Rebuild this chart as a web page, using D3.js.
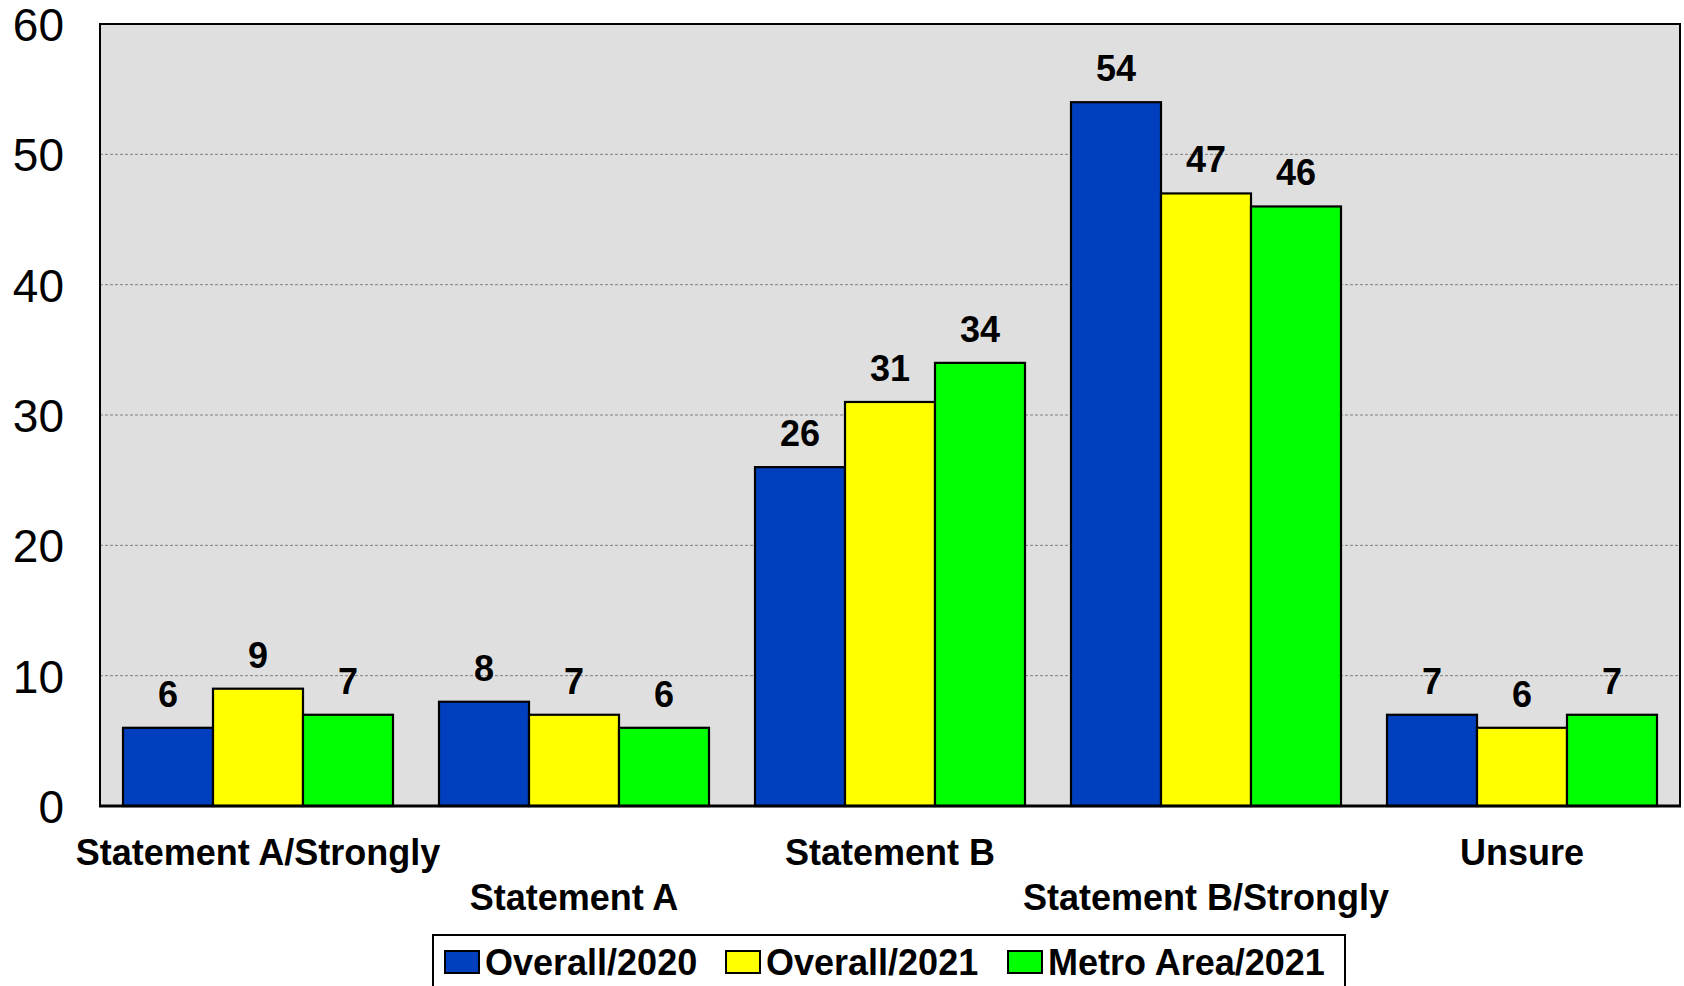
<!DOCTYPE html>
<html>
<head>
<meta charset="utf-8">
<script src="https://cdn.jsdelivr.net/npm/d3@7/dist/d3.min.js"></script>
<style>
  html, body { margin: 0; padding: 0; background: #ffffff; }
  svg { display: block; }
  text { font-family: "Liberation Sans", Arial, Helvetica, sans-serif; }
</style>
</head>
<body>
<svg id="chart" width="1684" height="986"></svg>
<script>
const categories = ["Statement A/Strongly", "Statement A", "Statement B", "Statement B/Strongly", "Unsure"];
const seriesNames = ["Overall/2020", "Overall/2021", "Metro Area/2021"];
const overall2020 = [6, 8, 26, 54, 7];
const overall2021 = [9, 7, 31, 47, 6];
const metro2021 = [7, 6, 34, 46, 7];
const seriesColors = ["#0040BF", "#FFFF00", "#00FF00"];
const yTicks = [0, 10, 20, 30, 40, 50, 60];

const seriesValues = [overall2020, overall2021, metro2021];

const svg = d3.select("#chart");
const plot = { left: 100, right: 1680, top: 24, bottom: 806 };

const y = d3.scaleLinear().domain([0, 60]).range([plot.bottom, plot.top]);
const p = 0.1456;
const x0 = d3.scaleBand().domain(categories).range([plot.left, plot.right])
  .paddingInner(p).paddingOuter(p / 2);
const x1 = d3.scaleBand().domain(seriesNames).range([0, x0.bandwidth()]).padding(0);

// plot background
svg.append("rect")
  .attr("x", plot.left).attr("y", plot.top)
  .attr("width", plot.right - plot.left).attr("height", plot.bottom - plot.top)
  .attr("fill", "#DFDFDF");

// gridlines
svg.append("g").selectAll("line")
  .data(yTicks.filter(t => t > 0 && t < 60))
  .join("line")
  .attr("x1", plot.left).attr("x2", plot.right)
  .attr("y1", d => y(d)).attr("y2", d => y(d))
  .attr("stroke", "#808080").attr("stroke-width", 1)
  .attr("stroke-dasharray", "3,2");

// bars
const groups = svg.append("g").selectAll("g")
  .data(categories)
  .join("g")
  .attr("transform", d => `translate(${x0(d)},0)`);

groups.each(function(cat, ci) {
  const g = d3.select(this);
  const data = seriesNames.map((s, si) => ({ s, si, v: seriesValues[si][ci] }));
  g.selectAll("rect")
    .data(data)
    .join("rect")
    .attr("x", d => x1(d.s))
    .attr("y", d => y(d.v))
    .attr("width", x1.bandwidth())
    .attr("height", d => y(0) - y(d.v))
    .attr("fill", d => seriesColors[d.si])
    .attr("stroke", "#000").attr("stroke-width", 2.2);
  g.selectAll("text.val")
    .data(data)
    .join("text")
    .attr("class", "val")
    .attr("x", d => x1(d.s) + x1.bandwidth() / 2)
    .attr("y", d => y(d.v) - 21)
    .attr("text-anchor", "middle")
    .attr("font-size", 36).attr("font-weight", "bold")
    .attr("fill", "#000")
    .text(d => d.v);
});

// plot frame
svg.append("rect")
  .attr("x", plot.left).attr("y", plot.top)
  .attr("width", plot.right - plot.left).attr("height", plot.bottom - plot.top)
  .attr("fill", "none").attr("stroke", "#000").attr("stroke-width", 2);
svg.append("line")
  .attr("x1", plot.left - 1).attr("x2", plot.right + 1)
  .attr("y1", plot.bottom).attr("y2", plot.bottom)
  .attr("stroke", "#000").attr("stroke-width", 3);

// y axis labels
const yAxis = d3.axisLeft(y).tickValues(yTicks).tickSize(0).tickPadding(36);
const yg = svg.append("g").attr("transform", `translate(${plot.left},0)`).call(yAxis);
yg.select(".domain").remove();
yg.selectAll("text")
  .attr("font-size", 46).attr("fill", "#000")
  .attr("font-family", "'Liberation Sans', Arial, sans-serif")
  .attr("dy", "0.36em");

// category labels (staggered)
svg.append("g").selectAll("text")
  .data(categories)
  .join("text")
  .attr("x", d => x0(d) + x0.bandwidth() / 2)
  .attr("y", (d, i) => i % 2 === 0 ? 865 : 910)
  .attr("text-anchor", "middle")
  .attr("font-size", 36).attr("font-weight", "bold").attr("fill", "#000")
  .text(d => d);

// legend
const legend = svg.append("g");
legend.append("rect")
  .attr("x", 433).attr("y", 935).attr("width", 912).attr("height", 70)
  .attr("fill", "#fff").attr("stroke", "#000").attr("stroke-width", 2);
const legendX = [445, 726, 1008];
const items = legend.selectAll("g.item")
  .data(seriesNames)
  .join("g")
  .attr("class", "item")
  .attr("transform", (d, i) => `translate(${legendX[i]},951)`);
items.append("rect")
  .attr("width", 34).attr("height", 22)
  .attr("fill", (d, i) => seriesColors[i])
  .attr("stroke", "#000").attr("stroke-width", 2);
items.append("text")
  .attr("x", 40).attr("y", 24)
  .attr("font-size", 36).attr("font-weight", "bold").attr("fill", "#000")
  .text(d => d);
</script>
</body>
</html>
